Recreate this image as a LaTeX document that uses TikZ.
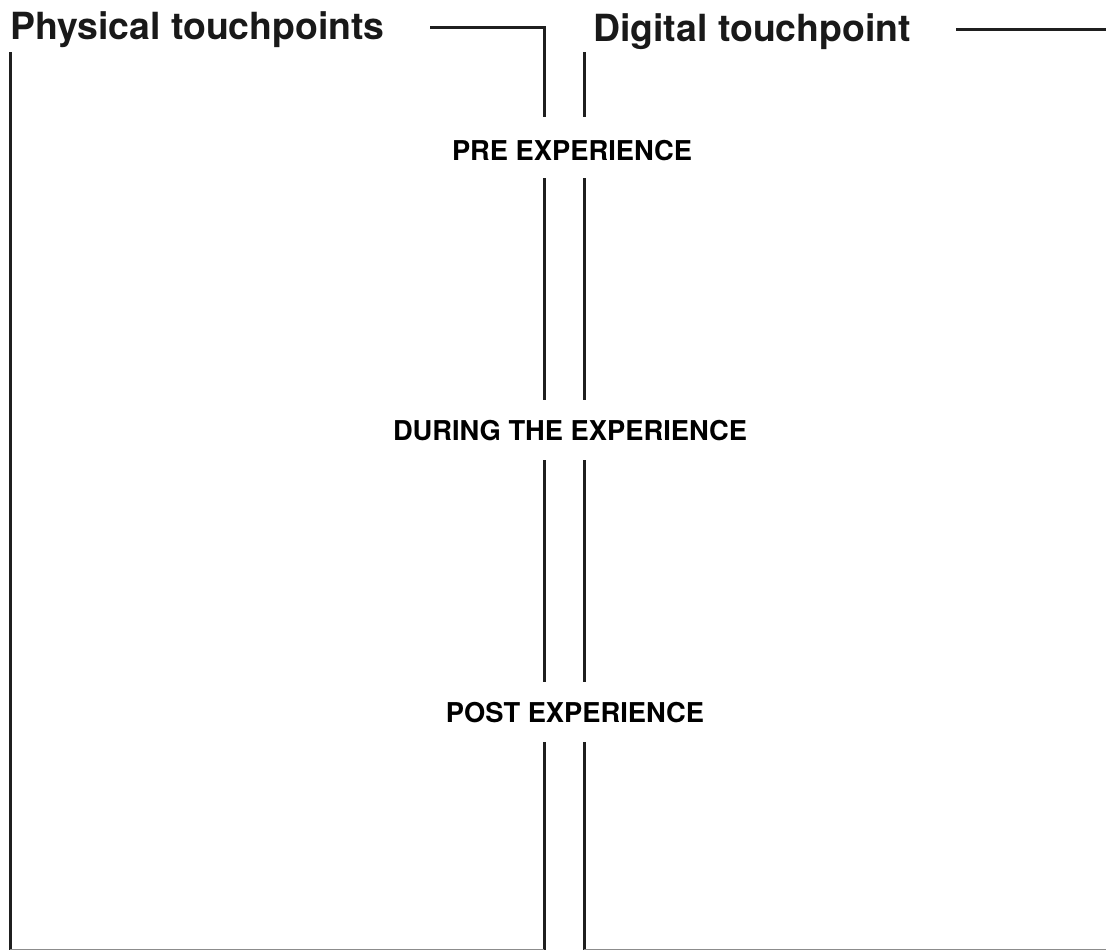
\documentclass[tikz,border=0pt]{standalone}
\usepackage{fontspec}
\setmainfont{TeX Gyre Heros}
\usetikzlibrary{positioning}

\begin{document}
\begin{tikzpicture}[x=1pt,y=-1pt,
		frame/.style={line width=3pt,color=black!88},
		floor/.style={line width=1.5pt,color=black!45},
		heading/.style={inner sep=0pt,anchor=base west,font=\fontsize{37.4}{44}\selectfont\bfseries,text=black!90},
		phase/.style={inner sep=0pt,font=\fontsize{27.3}{32}\selectfont\bfseries,text=black}]
	\useasboundingbox (0,0) rectangle (1106,951);

	% column headings
	\node (physical) [heading] at (10,39) {Physical touchpoints};
	\node (digital) [heading] at (593,41) {Digital touchpoint};

	% phase labels between the two columns
	\node (pre) [phase] at (572,151) {PRE EXPERIENCE};
	\node (during) [phase] at (570,431) {DURING THE EXPERIENCE};
	\node (post) [phase] at (575,713) {POST EXPERIENCE};

	% physical column
	\draw[frame] (10,52) -- (10,950);
	\draw[frame] (430,27) -- (544,27) -- (544,117);
	\draw[frame] (544,178) -- (544,400);
	\draw[frame] (544,460) -- (544,682);
	\draw[frame] (544,742) -- (544,950);
	\draw[floor] (10,949.5) -- (544,949.5);

	% digital column
	\draw[frame] (956,29) -- (1106,29);
	\draw[frame] (584,52) -- (584,117);
	\draw[frame] (584,178) -- (584,400);
	\draw[frame] (584,460) -- (584,682);
	\draw[frame] (584,742) -- (584,950);
	\draw[floor] (584,949.5) -- (1106,949.5);
\end{tikzpicture}
\end{document}
